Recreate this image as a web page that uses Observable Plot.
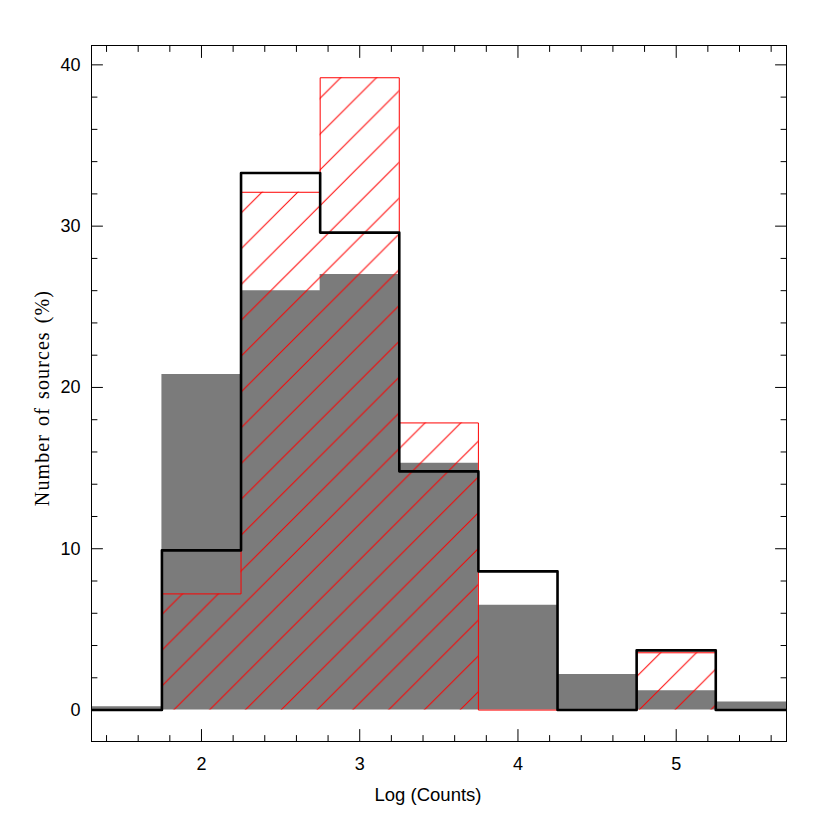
<!DOCTYPE html>
<html>
<head>
<meta charset="utf-8">
<script src="https://cdn.jsdelivr.net/npm/d3@7"></script>
<script src="https://cdn.jsdelivr.net/npm/@observablehq/plot@0.6"></script>
<style>
  html, body { margin: 0; padding: 0; background: #fff; }
  #chart svg { display: block; }
</style>
</head>
<body>
<div id="chart"></div>
<script>
// ---- data ----
const binEdges = [1.25, 1.75, 2.25, 2.75, 3.25, 3.75, 4.25, 4.75, 5.25, 5.75];
const grayPercent  = [0.2, 20.8, 26.0, 27.0, 15.3, 6.5, 2.2, 1.2, 0.5];
const redPercent   = [0, 7.2, 32.1, 39.2, 17.8, 0, 0, 3.55, 0];
const blackPercent = [0, 9.9, 33.3, 29.6, 14.8, 8.6, 0, 3.7, 0];
const xMajorTicks = [2, 3, 4, 5];
const xMinorTicks = [1.4, 1.6, 1.8, 2.2, 2.4, 2.6, 2.8, 3.2, 3.4, 3.6, 3.8, 4.2, 4.4, 4.6, 4.8, 5.2, 5.4, 5.6];
const yMajorTicks = [0, 10, 20, 30, 40];
const yMinorTicks = [2, 4, 6, 8, 12, 14, 16, 18, 22, 24, 26, 28, 32, 34, 36, 38];
const xLabel = "Log (Counts)";
const yLabel = "Number of sources (%)";

// step-table: one row per bin edge, last value repeated at the last edge
const steps = (vals) => binEdges.map((x, i) => ({x, v: vals[Math.min(i, vals.length - 1)]}));
const grayRows = steps(grayPercent);
const redRows = steps(redPercent);
const blackRows = steps(blackPercent);

const tickShape = {draw(ctx, l) { ctx.moveTo(0, 0); ctx.lineTo(0, -l); }};
const tickOpts = (len) => ({length: len, anchor: "start", shape: tickShape, stroke: "black", strokeWidth: 1, fill: "none"});

const chart = Plot.plot({
  width: 830,
  height: 830,
  marginLeft: 91,
  marginRight: 44,
  marginTop: 45,
  marginBottom: 89,
  style: {fontFamily: "'Liberation Sans', Arial, sans-serif", fontSize: "18px", background: "white", color: "black"},
  x: {domain: [1.305, 5.697], label: null},
  y: {domain: [-1.95, 41.2], label: null},
  marks: [
    Plot.areaY(grayRows, {x: "x", y: "v", curve: "step-after", fill: "#7b7b7b", clip: true}),
    Plot.areaY(redRows, {x: "x", y: "v", curve: "step-after", fill: "url(#hatch)", clip: true}),
    Plot.lineY(redRows, {x: "x", y: "v", curve: "step-after", stroke: "#ff0000", strokeWidth: 1, clip: true}),
    Plot.lineY(blackRows, {x: "x", y: "v", curve: "step-after", stroke: "black", strokeWidth: 2.6, clip: true}),
    // inward ticks on all four sides
    Plot.vector(xMajorTicks, {x: d => d, frameAnchor: "bottom", rotate: 0, ...tickOpts(12)}),
    Plot.vector(xMinorTicks, {x: d => d, frameAnchor: "bottom", rotate: 0, ...tickOpts(6)}),
    Plot.vector(xMajorTicks, {x: d => d, frameAnchor: "top", rotate: 180, ...tickOpts(12)}),
    Plot.vector(xMinorTicks, {x: d => d, frameAnchor: "top", rotate: 180, ...tickOpts(6)}),
    Plot.vector(yMajorTicks, {y: d => d, frameAnchor: "left", rotate: 90, ...tickOpts(11)}),
    Plot.vector(yMinorTicks, {y: d => d, frameAnchor: "left", rotate: 90, ...tickOpts(5.5)}),
    Plot.vector(yMajorTicks, {y: d => d, frameAnchor: "right", rotate: -90, ...tickOpts(11)}),
    Plot.vector(yMinorTicks, {y: d => d, frameAnchor: "right", rotate: -90, ...tickOpts(5.5)}),
    Plot.axisX({ticks: xMajorTicks, tickSize: 0, tickPadding: 15.5, label: null, fontSize: 18, tickFormat: d => String(d)}),
    Plot.axisY({ticks: yMajorTicks, tickSize: 0, tickPadding: 11, label: null, fontSize: 18, tickFormat: d => String(d)}),
    Plot.frame({stroke: "black", strokeWidth: 1}),
    Plot.text([xLabel], {text: d => d, frameAnchor: "bottom", dx: -11, dy: 54, fontSize: 18.5, lineAnchor: "middle", textAnchor: "middle"}),
    Plot.text([yLabel], {text: d => d, frameAnchor: "left", rotate: -90, dx: -49.4, dy: 4.5, fontSize: 20,
      textAnchor: "middle", fontFamily: "'Liberation Serif', 'Times New Roman', serif", lineAnchor: "middle"})
  ]
});

// hatch pattern (45° red lines)
const s = 35.8;
const svg = d3.select(chart.tagName.toLowerCase() === "svg" ? chart : chart.querySelector("svg"));
const defs = svg.insert("defs", ":first-child");
const pat = defs.append("pattern")
  .attr("id", "hatch").attr("patternUnits", "userSpaceOnUse")
  .attr("x", 24.5).attr("y", 0).attr("width", s).attr("height", s);
pat.append("path")
  .attr("d", `M0,${s}L${s},0M-3,3L3,-3M${s - 3},${s + 3}L${s + 3},${s - 3}`)
  .attr("stroke", "#ff0000").attr("stroke-width", 1).attr("fill", "none");

// wider, Hershey-like spacing for the y title
svg.selectAll("text").filter(function () { return this.textContent === yLabel; })
  .attr("letter-spacing", "1.1px").attr("word-spacing", "2px");

document.getElementById("chart").appendChild(chart);
</script>
</body>
</html>
